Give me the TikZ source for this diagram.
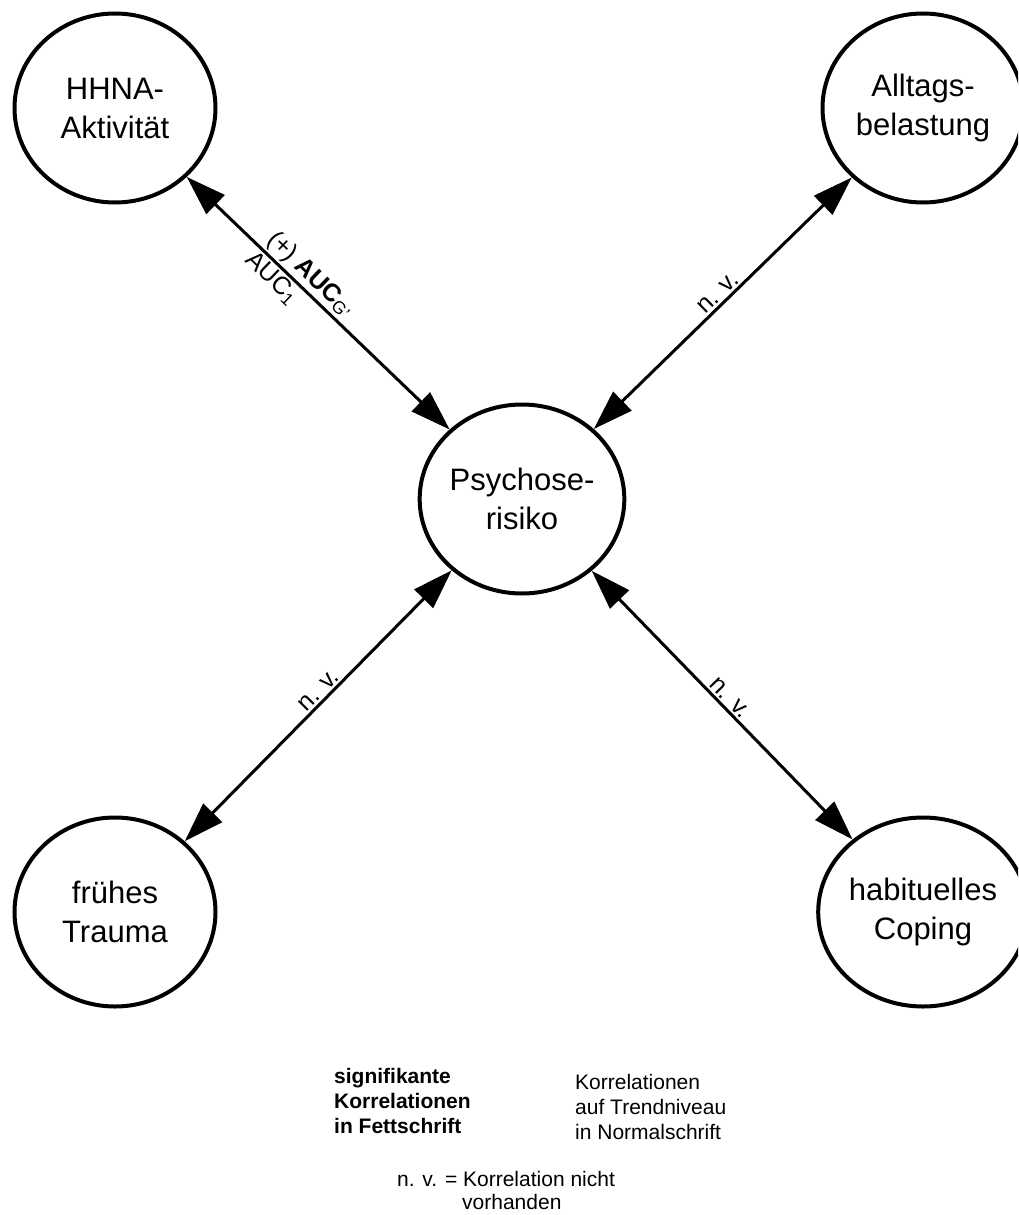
\documentclass[tikz,border=0pt]{standalone}
\usepackage{fontspec}
\setmainfont{Liberation Sans}
\usetikzlibrary{arrows.meta,shapes.geometric}

\begin{document}
\begin{tikzpicture}[
  x=1pt, y=1pt,
  var/.style={ellipse, draw, line width=4pt, minimum width=201pt, minimum height=189pt,
              inner sep=0pt, align=center, font=\fontsize{31}{39}\selectfont},
  conn/.style={line width=3pt,
              {Triangle[length=40pt,width=26pt]}-{Triangle[length=40pt,width=26pt]}},
  lbl/.style={sloped, inner sep=2pt, font=\fontsize{25}{30}\selectfont},
  legend/.style={anchor=north west, inner sep=0pt, align=left,
              font=\fontsize{21}{25}\selectfont}
]
\useasboundingbox (0,0) rectangle (1018,-1215);
\begin{scope}
\clip (0,0) rectangle (1018,-1215);

% variables
\node[var] (hhna)   at (115,-108) {HHNA-\\Aktivität};
\node[var] (allt)   at (923,-108) {Alltags-\\belastung};
\node[var] (psy)    at (522,-499) {Psychose-\\risiko};
\node[var] (trauma) at (115,-912) {frühes\\Trauma};
\node[var] (coping) at (923,-912) {habituelles\\Coping};

% correlations
\draw[conn] (hhna) -- (psy)
  node[lbl, above, pos=0.43] {(+) \textbf{AUC}\textsubscript{G'}}
  node[lbl, below, pos=0.36] {AUC\textsubscript{1}};
\draw[conn] (psy) -- (allt) node[lbl, above, pos=0.51] {n. v.};
\draw[conn] (trauma) -- (psy) node[lbl, above, pos=0.53] {n. v.};
\draw[conn] (psy) -- (coping) node[lbl, above, pos=0.5] {n. v.};
\end{scope}

% legend
\node[legend] (sig) at (334,-1068) {\textbf{signifikante}\\\textbf{Korrelationen}\\\textbf{in Fettschrift}};
\node[legend] (trend) at (575,-1074) {Korrelationen\\auf Trendniveau\\in Normalschrift};
\node[legend] (nv1) at (397,-1171) {n. v. = Korrelation nicht};
\node[legend] (nv2) at (462,-1194) {vorhanden};
\end{tikzpicture}
\end{document}
